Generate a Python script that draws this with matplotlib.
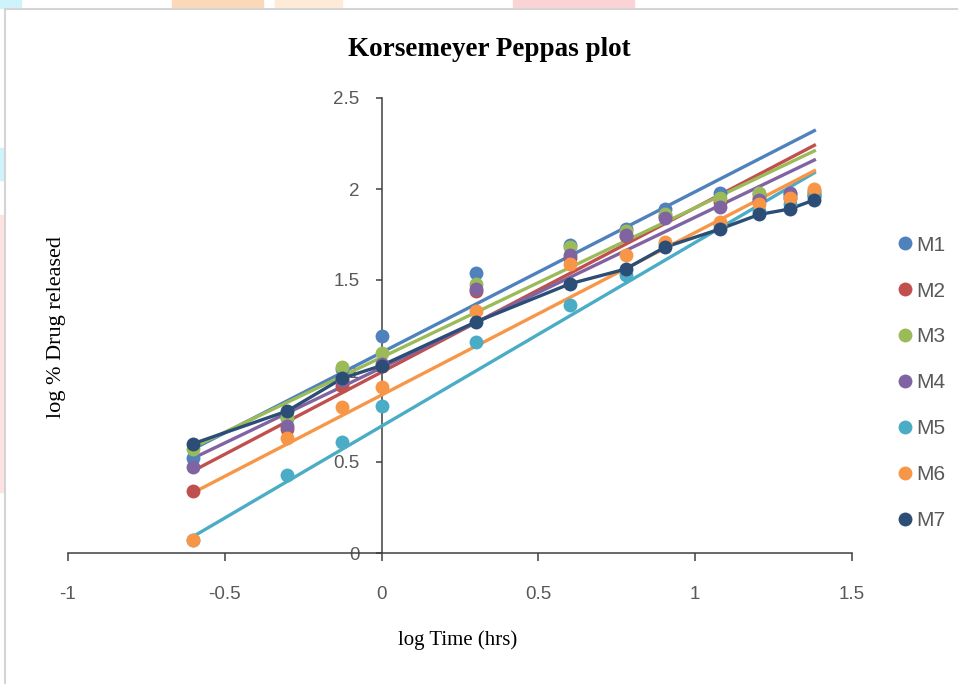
import matplotlib
matplotlib.use("Agg")
import matplotlib.pyplot as plt
from matplotlib.lines import Line2D
from matplotlib.patches import Rectangle
import numpy as np

# log time (hrs) for 0.25, 0.5, 0.75, 1, 2, 4, 6, 8, 12, 16, 20, 24 h
log_time = [-0.602, -0.301, -0.125, 0.0, 0.301, 0.602, 0.778, 0.903, 1.079, 1.204, 1.301, 1.380]

labels = ["M1", "M2", "M3", "M4", "M5", "M6", "M7"]
colors = ["#4F81BD", "#C0504D", "#9BBB59", "#8064A2", "#4BACC6", "#F79646", "#2C4D75"]

# log % drug released
m1 = [0.52, 0.74, 1.01, 1.19, 1.54, 1.69, 1.78, 1.89, 1.98, 1.97, 1.97, 1.99]
m2 = [0.34, 0.68, 0.92, 1.03, 1.44, 1.62, 1.74, 1.85, 1.93, 1.95, 1.95, 1.97]
m3 = [0.57, 0.75, 1.02, 1.10, 1.48, 1.68, 1.77, 1.86, 1.95, 1.98, 1.96, 1.98]
m4 = [0.47, 0.70, 0.95, 1.04, 1.45, 1.64, 1.75, 1.84, 1.90, 1.94, 1.98, 1.96]
m5 = [0.07, 0.43, 0.61, 0.81, 1.16, 1.36, 1.53, 1.70, 1.80, 1.88, 1.92, 1.96]
m6 = [0.07, 0.63, 0.80, 0.91, 1.33, 1.59, 1.64, 1.71, 1.82, 1.92, 1.95, 2.00]
m7 = [0.60, 0.78, 0.96, 1.03, 1.27, 1.48, 1.56, 1.68, 1.78, 1.86, 1.89, 1.94]
series = [m1, m2, m3, m4, m5, m6, m7]

# linear trendlines for M1..M6 (slope, intercept); M7 is joined point to point
slopes = [0.883, 0.903, 0.822, 0.827, 1.009, 0.893]
intercepts = [1.102, 0.994, 1.075, 1.018, 0.697, 0.868]

tick_font = ["Liberation Sans Narrow", "Liberation Sans", "DejaVu Sans"]

fig = plt.figure(figsize=(9.58, 6.84), dpi=100)

# faint background behind the chart frame
bg = [((0, 0.988), 0.022, 0.012, "#CFF3FA"), ((0.18, 0.988), 0.095, 0.012, "#FBD9B8"),
      ((0.287, 0.988), 0.07, 0.012, "#FDEBD8"), ((0.535, 0.988), 0.127, 0.012, "#FAD4D4"),
      ((0, 0.737), 0.006, 0.047, "#CFF3FA"), ((0, 0.28), 0.006, 0.406, "#FDE2E2")]
for (xy, w, h, c) in bg:
    fig.patches.append(Rectangle(xy, w, h, transform=fig.transFigure, color=c, zorder=0))
fig.patches.append(Rectangle((5 / 958, -0.05), 1.1, 1.05 - 9 / 684, transform=fig.transFigure,
                             facecolor="white", edgecolor="#D4D4D4", lw=1.5, zorder=1))

ax = fig.add_axes([68 / 958, 1 - 553 / 684, (852 - 68) / 958, (553 - 98) / 684])
ax.set_facecolor("none")
ax.set_zorder(2)

xs = np.array([log_time[0], log_time[-1]])
for i in range(6):
    ax.plot(xs, slopes[i] * xs + intercepts[i], color=colors[i], lw=2.4, zorder=3)
ax.plot(log_time, m7, color=colors[6], lw=2.4, zorder=3)

for vals, c in zip(series, colors):
    ax.plot(log_time, vals, "o", color=c, ms=10, mec="none", zorder=4)

ax.set_xlim(-1, 1.5)
ax.set_ylim(0, 2.5)
ax.set_xticks([-1, -0.5, 0, 0.5, 1, 1.5])
ax.set_xticklabels(["-1", "-0.5", "0", "0.5", "1", "1.5"])
ax.set_yticks([0, 0.5, 1, 1.5, 2, 2.5])
ax.set_yticklabels(["0", "0.5", "1", "1.5", "2", "2.5"])

ax.spines["top"].set_visible(False)
ax.spines["right"].set_visible(False)
ax.spines["left"].set_position(("data", 0))
for s in ["left", "bottom"]:
    ax.spines[s].set_color("#404040")
    ax.spines[s].set_linewidth(1.1)
ax.tick_params(axis="x", direction="out", length=6, width=1.1, color="#404040",
               pad=18, labelsize=13.5, labelcolor="#595959")
ax.tick_params(axis="y", direction="out", length=4, width=1.1, color="#404040",
               pad=12, labelsize=13.5, labelcolor="#595959")
for lab in ax.get_xticklabels() + ax.get_yticklabels():
    lab.set_family(tick_font)

fig.text(0.511, 0.927, "Korsemeyer Peppas plot", ha="center", va="center",
         fontsize=19.5, fontweight="bold", family="Liberation Serif")
fig.text(458 / 958, 1 - 640 / 684, "log Time (hrs)", ha="center", va="center",
         fontsize=15, family="Liberation Serif")
fig.text(57 / 958, 1 - 327 / 684, "log % Drug released", ha="center", va="center",
         rotation=90, fontsize=16, family="Liberation Serif")

handles = [Line2D([], [], ls="none", marker="o", ms=10, mec="none", color=c) for c in colors]
leg = fig.legend(handles, labels, loc="upper left", bbox_to_anchor=(876 / 958, 1 - 217 / 684),
                 frameon=False, handletextpad=0.05, handlelength=1.0, labelspacing=1.29,
                 prop={"family": tick_font, "size": 15})
for t in leg.get_texts():
    t.set_color("#595959")

fig.savefig("out.png", dpi=100)
